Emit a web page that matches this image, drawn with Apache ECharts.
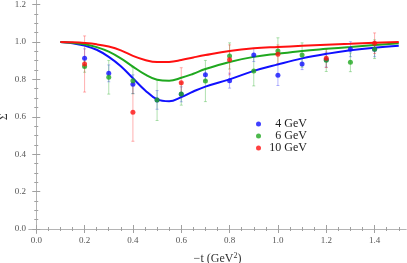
<!DOCTYPE html>
<html>
<head>
<meta charset="utf-8">
<script src="https://cdn.jsdelivr.net/npm/echarts@6/dist/echarts.min.js"></script>
<style>html,body{margin:0;padding:0;background:#fff}#c{width:407px;height:263px}</style>
</head>
<body>
<div id="c"></div>
<script>
// ---- data ----
const xTickLabels = [0, 0.2, 0.4, 0.6, 0.8, 1.0, 1.2, 1.4];
const yTickLabels = [0, 0.2, 0.4, 0.6, 0.8, 1.0, 1.2];
const xMinorTicks = [0,0.05,0.1,0.15,0.2,0.25,0.3,0.35,0.4,0.45,0.5,0.55,0.6,0.65,0.7,0.75,0.8,0.85,0.9,0.95,1.0,1.05,1.1,1.15,1.2,1.25,1.3,1.35,1.4,1.45,1.5];
const yMinorTicks = [0,0.05,0.1,0.15,0.2,0.25,0.3,0.35,0.4,0.45,0.5,0.55,0.6,0.65,0.7,0.75,0.8,0.85,0.9,0.95,1.0,1.05,1.1,1.15,1.2];

const seriesNames = ['4 GeV', '6 GeV', '10 GeV'];

// data points: -t, Sigma, error
const t4 = [0.2, 0.3, 0.4, 0.5, 0.6, 0.7, 0.8, 0.9, 1.0, 1.1, 1.2, 1.3, 1.4];
const s4 = [0.913, 0.832, 0.774, 0.690, 0.720, 0.824, 0.793, 0.930, 0.822, 0.882, 0.905, 0.961, 0.961];
const e4 = [0.050, 0.045, 0.050, 0.050, 0.040, 0.030, 0.040, 0.035, 0.055, 0.030, 0.040, 0.040, 0.040];

const t6 = [0.2, 0.3, 0.4, 0.5, 0.6, 0.7, 0.8, 0.9, 1.0, 1.1, 1.2, 1.3, 1.4];
const s6 = [0.868, 0.811, 0.793, 0.690, 0.722, 0.791, 0.925, 0.845, 0.952, 0.930, 0.902, 0.891, 0.961];
const e6 = [0.030, 0.090, 0.070, 0.110, 0.060, 0.110, 0.070, 0.080, 0.070, 0.065, 0.060, 0.050, 0.050];

const t10 = [0.2, 0.4, 0.6, 0.8, 1.0, 1.2, 1.4];
const s10 = [0.882, 0.624, 0.782, 0.904, 0.934, 0.913, 0.993];
const e10 = [0.150, 0.155, 0.080, 0.080, 0.050, 0.050, 0.055];

// model curves
const curveT = [0.1, 0.15, 0.2, 0.25, 0.3, 0.35, 0.4, 0.45, 0.5, 0.55, 0.6, 0.65, 0.7, 0.8, 0.9, 1.0, 1.1, 1.2, 1.3, 1.4, 1.5];
const curve4 = [1.0, 0.993, 0.980, 0.958, 0.920, 0.870, 0.806, 0.742, 0.693, 0.683, 0.705, 0.735, 0.761, 0.800, 0.845, 0.880, 0.912, 0.936, 0.955, 0.969, 0.979];
const curve6 = [1.0, 0.995, 0.988, 0.972, 0.948, 0.912, 0.868, 0.826, 0.798, 0.793, 0.808, 0.830, 0.855, 0.893, 0.920, 0.937, 0.952, 0.963, 0.973, 0.983, 0.993];
const curve10 = [1.0, 0.998, 0.994, 0.987, 0.975, 0.955, 0.925, 0.903, 0.892, 0.893, 0.903, 0.917, 0.930, 0.952, 0.966, 0.973, 0.979, 0.985, 0.990, 0.995, 0.999];

// ---- build ----
const colors = ['#1010ff', '#1fa81f', '#ff1010'];
const barColors = ['rgba(40,40,255,0.35)', 'rgba(30,170,30,0.35)', 'rgba(255,30,30,0.35)'];
const zip2 = (a, b) => a.map((v, i) => [v, b[i]]);
const errData = (t, s, e) => t.map((v, i) => [v, s[i] - e[i], s[i] + e[i]]);

function errSeries(t, s, e, idx) {
  return {
    type: 'custom',
    xAxisIndex: 0, yAxisIndex: 0,
    silent: true,
    z: 1,
    encode: { x: 0, y: [1, 2] },
    data: errData(t, s, e),
    renderItem: function (params, api) {
      const x = api.value(0);
      const p1 = api.coord([x, api.value(2)]);
      const p2 = api.coord([x, api.value(1)]);
      const w = 1.5;
      const st = { stroke: barColors[idx], lineWidth: 1 };
      return {
        type: 'group',
        children: [
          { type: 'line', shape: { x1: p1[0], y1: p1[1], x2: p2[0], y2: p2[1] }, style: st },
          { type: 'line', shape: { x1: p1[0] - w, y1: p1[1], x2: p1[0] + w, y2: p1[1] }, style: st },
          { type: 'line', shape: { x1: p2[0] - w, y1: p2[1], x2: p2[0] + w, y2: p2[1] }, style: st }
        ]
      };
    }
  };
}
function curveSeries(t, c, idx) {
  return {
    type: 'line', xAxisIndex: 0, yAxisIndex: 0, smooth: 0.4, showSymbol: false, silent: true, z: 3,
    lineStyle: { color: colors[idx], width: 2 },
    data: zip2(t, c)
  };
}
function pointSeries(t, s, idx) {
  return {
    name: seriesNames[idx], type: 'scatter', xAxisIndex: 0, yAxisIndex: 0, symbol: 'circle', symbolSize: 5, z: 4,
    itemStyle: { color: colors[idx] },
    data: zip2(t, s)
  };
}

const font = 'Liberation Serif';
const frameColor = '#b4b4b4';
const tickColor = '#a0a0a0';
const labelColor = '#555';
const fmt = v => v.toFixed(1);

function xAx(pos, major, showLabel, extra) {
  return Object.assign({
    type: 'value', min: -0.03, max: 1.53, position: pos, gridIndex: 0,
    axisLine: { show: major, lineStyle: { color: frameColor, width: 1 } },
    axisTick: { show: true, inside: true, length: major ? 4 : 2, customValues: major ? xTickLabels : xMinorTicks, lineStyle: { color: tickColor } },
    axisLabel: { show: showLabel, customValues: xTickLabels, formatter: fmt, fontFamily: font, fontSize: 9, color: labelColor, margin: 3 },
    splitLine: { show: false }
  }, extra || {});
}
function yAx(pos, major, showLabel, extra) {
  return Object.assign({
    type: 'value', min: -0.024, max: 1.224, position: pos, gridIndex: 0,
    axisLine: { show: major, lineStyle: { color: frameColor, width: 1 } },
    axisTick: { show: true, inside: true, length: major ? 4 : 2, customValues: major ? yTickLabels : yMinorTicks, lineStyle: { color: tickColor } },
    axisLabel: { show: showLabel, customValues: yTickLabels, formatter: fmt, fontFamily: font, fontSize: 9, color: labelColor, margin: 3 },
    splitLine: { show: false }
  }, extra || {});
}

const option = {
  animation: false,
  backgroundColor: '#fff',
  grid: { left: 29, right: 1, top: 0, bottom: 29.5, containLabel: false, outerBoundsMode: 'none' },
  legend: {
    orient: 'vertical', left: 251, top: 113,
    data: seriesNames,
    icon: 'circle', itemWidth: 5, itemHeight: 5, itemGap: 0,
    formatter: n => '{a|' + n + '}',
    textStyle: {
      fontFamily: font, fontSize: 12, color: '#222',
      rich: { a: { width: 41, align: 'right', fontFamily: font, fontSize: 12, lineHeight: 12, color: '#222' } }
    }
  },
  xAxis: [
    xAx('bottom', true, true, { name: '−t (GeV{s|2})', nameLocation: 'middle', nameGap: 18, nameMoveOverlap: false,
      nameTextStyle: { fontFamily: font, fontSize: 12, color: '#333', rich: { s: { fontFamily: font, fontSize: 8, verticalAlign: 'bottom', padding: [0, 0, 6, 0], color: '#333' } } } }),
    xAx('bottom', false, false),
    xAx('top', true, false),
    xAx('top', false, false)
  ],
  yAxis: [
    yAx('left', true, true, { name: 'Σ', nameLocation: 'middle', nameGap: 19, nameMoveOverlap: false,
      nameTextStyle: { fontFamily: font, fontSize: 12, color: '#333' } }),
    yAx('left', false, false),
    yAx('right', true, false),
    yAx('right', false, false)
  ],
  series: [
    errSeries(t4, s4, e4, 0),
    errSeries(t6, s6, e6, 1),
    errSeries(t10, s10, e10, 2),
    curveSeries(curveT, curve4, 0),
    curveSeries(curveT, curve6, 1),
    curveSeries(curveT, curve10, 2),
    pointSeries(t4, s4, 0),
    pointSeries(t6, s6, 1),
    pointSeries(t10, s10, 2)
  ]
};
const chart = echarts.init(document.getElementById('c'), null, { renderer: 'canvas' });
chart.setOption(option);
</script>
</body>
</html>
